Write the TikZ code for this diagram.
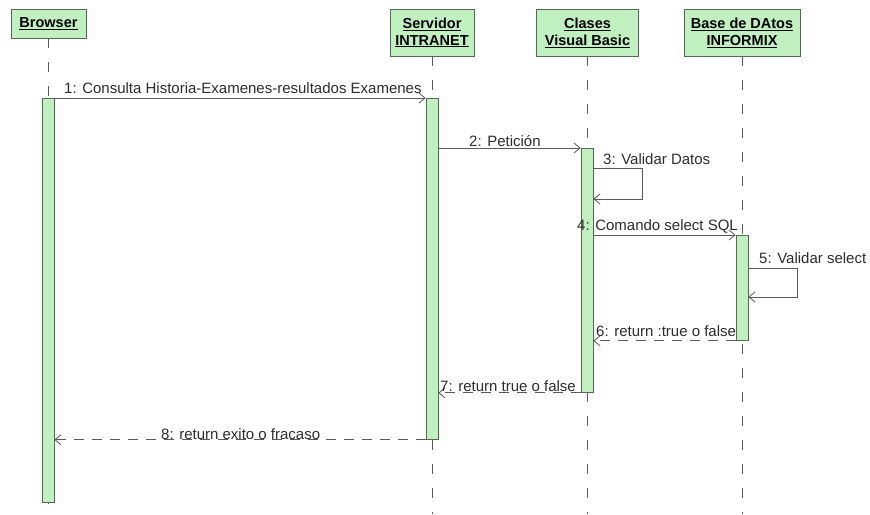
\documentclass[tikz,border=0pt]{standalone}
\usepackage{fontspec}
\setmainfont{Liberation Sans}
\usetikzlibrary{arrows.meta,calc}
\definecolor{actfill}{RGB}{192,240,192}
\definecolor{boxline}{RGB}{85,105,85}
\definecolor{msgline}{RGB}{90,90,90}
\definecolor{lbltext}{RGB}{45,45,45}
\begin{document}
\begin{tikzpicture}[x=1pt,y=-1pt,
  obj/.style={draw=boxline, fill=actfill, line width=0.8pt, align=center,
    font=\fontsize{14.5}{17}\selectfont\bfseries, inner sep=2pt},
  act/.style={draw=boxline, fill=actfill, line width=0.8pt, minimum width=12pt,
    inner sep=0pt, anchor=north},
  life/.style={draw=msgline, line width=0.8pt, dash pattern=on 10pt off 14pt},
  msg/.style={draw=msgline, line width=0.8pt, -{Straight Barb[length=6pt,width=10pt]}},
  ret/.style={msg, dash pattern=on 10pt off 8pt},
  lbl/.style={font=\fontsize{15}{17}\selectfont, text=lbltext, inner sep=0pt, anchor=west}]

\useasboundingbox[fill=white] (0,0) rectangle (870,514);

% objects
\node[obj, minimum width=75pt, minimum height=29pt] (browser) at (48.5,23.5) {\underline{Browser}};
\node[obj, minimum width=84pt, minimum height=47pt] (servidor) at (432,32.5) {\underline{Servidor}\\\underline{INTRANET}};
\node[obj, minimum width=102pt, minimum height=47pt] (clases) at (587.5,32.5) {\underline{Clases}\\\underline{Visual Basic}};
\node[obj, minimum width=116pt, minimum height=47pt] (base) at (742,32.5) {\underline{Base de DAtos}\\\underline{INFORMIX}};

% lifelines
\coordinate (bottom) at (0,514);
\foreach \o in {browser,servidor,clases,base}
  \draw[life] (\o.south) -- (\o.south |- bottom);

% activation bars
\node[act, minimum height=404pt] (aB) at (48,98) {};
\node[act, minimum height=341pt] (aS) at (432,98) {};
\node[act, minimum height=244pt] (aC) at (587,148) {};
\node[act, minimum height=105pt] (aD) at (742,235) {};

% message levels
\coordinate (y3a) at (0,168);
\coordinate (y3b) at (0,199);
\coordinate (y5a) at (0,268);
\coordinate (y5b) at (0,297);

% messages
\draw[msg] (aB.north east) -- (aB.north east -| aS.west);
\node[lbl] (m1) at (64,88) {1: Consulta Historia-Examenes-resultados Examenes};

\draw[msg] (aS.east |- aC.north) -- (aC.north west);
\node[lbl] (m2) at (469,141) {2: Petición};

\draw[msg] (aC.east |- y3a) -- ++(49,0) |- (aC.east |- y3b);
\node[lbl] (m3) at (603,159) {3: Validar Datos};

\draw[msg] (aC.east |- aD.north) -- (aD.north west);
\node[lbl] (m4) at (577,226) {4: Comando select SQL};

\draw[msg] (aD.east |- y5a) -- ++(49,0) |- (aD.east |- y5b);
\node[lbl] (m5) at (759,258) {5: Validar select};

\draw[ret] (aD.south west) -- (aC.east |- aD.south);
\node[lbl] (m6) at (596,331) {6: return :true o false};

\draw[ret] (aC.south west) -- (aS.east |- aC.south);
\node[lbl] (m7) at (440,386) {7: return true o false};

\draw[ret] (aS.south west) -- (aB.east |- aS.south);
\node[lbl] (m8) at (161,434) {8: return exito o fracaso};

\end{tikzpicture}
\end{document}
